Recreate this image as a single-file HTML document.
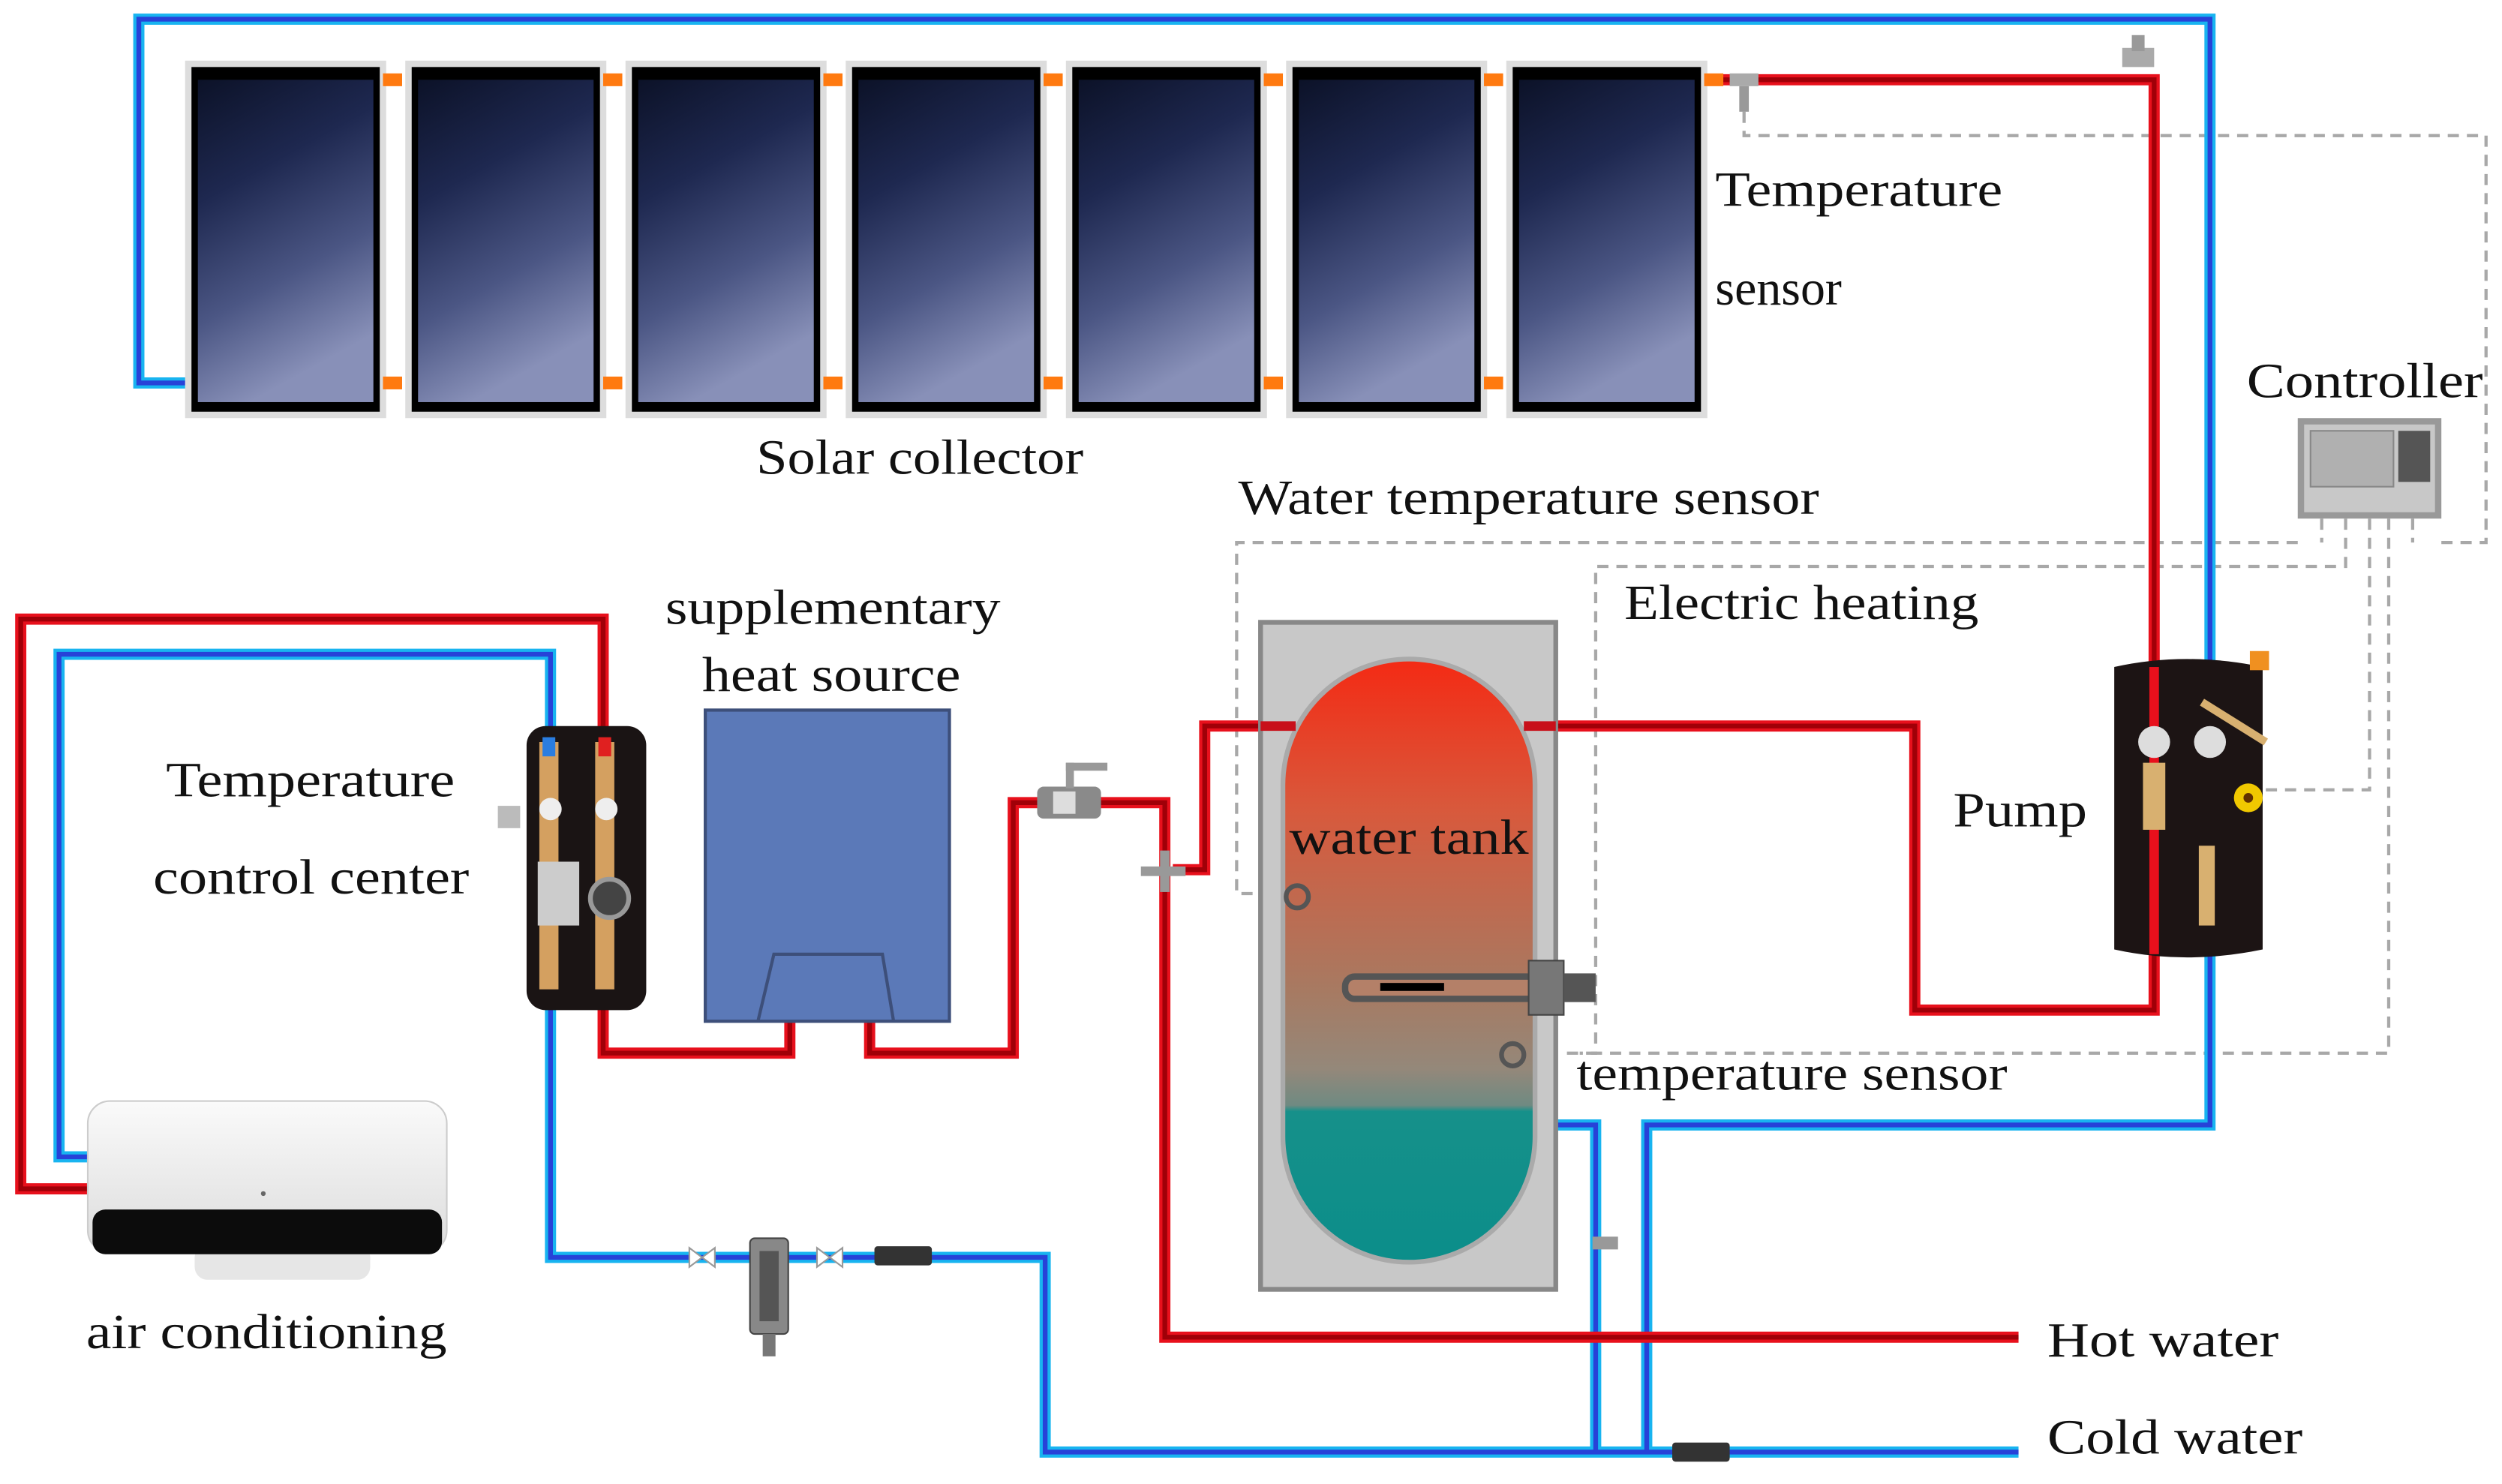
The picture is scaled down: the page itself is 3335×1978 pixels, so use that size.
<!DOCTYPE html>
<html><head><meta charset="utf-8"><style>
html,body{margin:0;padding:0;background:#fff;}
svg{display:block;}
text{font-family:"Liberation Serif",serif;fill:#111;}
</style></head><body>
<svg width="3335" height="1978" viewBox="0 0 1568 930" preserveAspectRatio="none" xmlns="http://www.w3.org/2000/svg">
<defs>
<linearGradient id="pn" x1="0" y1="0" x2="0.3" y2="1">
<stop offset="0" stop-color="#0c1228"/><stop offset="0.35" stop-color="#1e2850"/><stop offset="0.7" stop-color="#4b5684"/><stop offset="1" stop-color="#8890b8"/>
</linearGradient>
<linearGradient id="tk" x1="0" y1="0" x2="0" y2="1">
<stop offset="0" stop-color="#f42a14"/><stop offset="0.25" stop-color="#d8593c"/><stop offset="0.55" stop-color="#a77a62"/><stop offset="0.68" stop-color="#94887a"/><stop offset="0.74" stop-color="#6f8a82"/><stop offset="0.75" stop-color="#16908a"/><stop offset="1" stop-color="#0b8e8a"/>
</linearGradient>
<linearGradient id="ac" x1="0" y1="0" x2="0" y2="1"><stop offset="0" stop-color="#fafafa"/><stop offset="1" stop-color="#dcdcdc"/></linearGradient>
</defs>

<g fill="none" stroke="#a8a8a8" stroke-width="2" stroke-dasharray="7,5">
<path d="M1093,70 V85 H1558 V340 H1530"/>
<path d="M1440,340 H775 V560 H805"/>
<path d="M1470,325 V355 H1000 V660 H980"/>
<path d="M1485,325 V495 H1415"/>
<path d="M1497,325 V660 H990"/>
<path d="M1455,325 V340"/>
<path d="M1512,325 V340"/>
</g>

<g fill="none" stroke-linejoin="miter">
<g stroke="#18b4f0" stroke-width="7">
<path d="M120,240 H87 V12 H1385 V705 H1032 V910"/>
<path d="M975,705 H1000 V910"/>
<path d="M55,725 H37 V410 H345 V460"/>
<path d="M345,630 V788 H655 V910 H1265"/>
</g>
<g stroke="#2742d8" stroke-width="3">
<path d="M120,240 H87 V12 H1385 V705 H1032 V910"/>
<path d="M975,705 H1000 V910"/>
<path d="M55,725 H37 V410 H345 V460"/>
<path d="M345,630 V788 H655 V910 H1265"/>
</g>
<g stroke="#e8101c" stroke-width="7">
<path d="M1070,50 H1350 V633 H1200 V455 H955"/>
<path d="M55,745 H13 V388 H378 V460"/>
<path d="M378,625 V660 H495 V640"/>
<path d="M545,640 V660 H635 V503 H730 V838 H1265"/>
<path d="M808,455 H755 V545 H735"/>
</g>
<g stroke="#a00008" stroke-width="3">
<path d="M1070,50 H1350 V633 H1200 V455 H955"/>
<path d="M55,745 H13 V388 H378 V460"/>
<path d="M378,625 V660 H495 V640"/>
<path d="M545,640 V660 H635 V503 H730 V838 H1265"/>
<path d="M808,455 H755 V545 H735"/>
</g>
</g>

<g>
<rect x="116" y="38" width="126" height="224" fill="#ddd"/><rect x="120" y="42" width="118" height="216" fill="#000"/><rect x="124" y="50" width="110" height="202" fill="url(#pn)"/>
<rect x="254" y="38" width="126" height="224" fill="#ddd"/><rect x="258" y="42" width="118" height="216" fill="#000"/><rect x="262" y="50" width="110" height="202" fill="url(#pn)"/>
<rect x="392" y="38" width="126" height="224" fill="#ddd"/><rect x="396" y="42" width="118" height="216" fill="#000"/><rect x="400" y="50" width="110" height="202" fill="url(#pn)"/>
<rect x="530" y="38" width="126" height="224" fill="#ddd"/><rect x="534" y="42" width="118" height="216" fill="#000"/><rect x="538" y="50" width="110" height="202" fill="url(#pn)"/>
<rect x="668" y="38" width="126" height="224" fill="#ddd"/><rect x="672" y="42" width="118" height="216" fill="#000"/><rect x="676" y="50" width="110" height="202" fill="url(#pn)"/>
<rect x="806" y="38" width="126" height="224" fill="#ddd"/><rect x="810" y="42" width="118" height="216" fill="#000"/><rect x="814" y="50" width="110" height="202" fill="url(#pn)"/>
<rect x="944" y="38" width="126" height="224" fill="#ddd"/><rect x="948" y="42" width="118" height="216" fill="#000"/><rect x="952" y="50" width="110" height="202" fill="url(#pn)"/>
</g>
<g fill="#ff7a10">
<rect x="240" y="46" width="12" height="8"/><rect x="240" y="236" width="12" height="8"/>
<rect x="378" y="46" width="12" height="8"/><rect x="378" y="236" width="12" height="8"/>
<rect x="516" y="46" width="12" height="8"/><rect x="516" y="236" width="12" height="8"/>
<rect x="654" y="46" width="12" height="8"/><rect x="654" y="236" width="12" height="8"/>
<rect x="792" y="46" width="12" height="8"/><rect x="792" y="236" width="12" height="8"/>
<rect x="930" y="46" width="12" height="8"/><rect x="930" y="236" width="12" height="8"/>
<rect x="1068" y="46" width="12" height="8"/>
</g>
<rect x="1084" y="46" width="18" height="8" fill="#aaa"/><rect x="1090" y="54" width="6" height="16" fill="#999"/>
<rect x="1330" y="30" width="20" height="12" fill="#aaa"/><rect x="1336" y="22" width="8" height="10" fill="#999"/>

<rect x="1440" y="262" width="90" height="63" fill="#999"/>
<rect x="1444" y="266" width="82" height="55" fill="#c8c8c8"/>
<rect x="1448" y="270" width="52" height="35" fill="#b0b0b0" stroke="#888"/>
<rect x="1503" y="270" width="20" height="32" fill="#555"/>

<path d="M1325,418 Q1370,408 1418,418 V595 Q1370,605 1325,595 Z" fill="#1c1414"/>
<rect x="1347" y="418" width="6" height="180" fill="#e8101c"/>
<circle cx="1350" cy="465" r="10" fill="#ddd"/><circle cx="1385" cy="465" r="10" fill="#ddd"/>
<rect x="1343" y="478" width="14" height="42" fill="#d8b070"/>
<rect x="1378" y="530" width="10" height="50" fill="#d8b070"/>
<path d="M1380,440 L1420,465" stroke="#d8b070" stroke-width="5"/>
<circle cx="1409" cy="500" r="9" fill="#f0c800"/><circle cx="1409" cy="500" r="3" fill="#603000"/>
<rect x="1410" y="408" width="12" height="12" fill="#f09020"/>

<rect x="790" y="390" width="185" height="418" fill="#c8c8c8" stroke="#888" stroke-width="3"/>
<rect x="804" y="413" width="158" height="378" rx="79" fill="url(#tk)" stroke="#aaa" stroke-width="3"/>
<path d="M790,455 H812 M955,455 H975" stroke="#c8101a" stroke-width="6"/>
<circle cx="813" cy="562" r="7" fill="none" stroke="#555" stroke-width="3"/>
<circle cx="948" cy="661" r="7" fill="none" stroke="#555" stroke-width="3"/>
<rect x="843" y="612" width="120" height="14" rx="6" fill="#b48068" stroke="#555" stroke-width="4"/>
<rect x="865" y="616" width="40" height="5" fill="#000"/>
<rect x="958" y="602" width="22" height="34" fill="#777" stroke="#444"/>
<rect x="980" y="610" width="20" height="18" fill="#555"/>
<rect x="998" y="775" width="16" height="8" fill="#999"/>

<rect x="650" y="493" width="40" height="20" rx="4" fill="#8a8a8a"/><rect x="660" y="496" width="14" height="14" fill="#ddd"/>
<rect x="668" y="478" width="26" height="5" fill="#999"/><rect x="668" y="478" width="5" height="16" fill="#999"/>
<rect x="715" y="543" width="28" height="6" fill="#999"/><rect x="727" y="533" width="6" height="26" fill="#999"/>

<rect x="442" y="445" width="153" height="195" fill="#5b79b8" stroke="#3d4f7a" stroke-width="2"/>
<path d="M475,640 L485,598 H553 L560,640" fill="none" stroke="#3d4f7a" stroke-width="2"/>

<rect x="330" y="455" width="75" height="178" rx="12" fill="#1a1414"/>
<rect x="338" y="465" width="12" height="155" fill="#d4a060"/>
<rect x="373" y="465" width="12" height="155" fill="#d4a060"/>
<rect x="340" y="462" width="8" height="12" fill="#2a7de0"/><rect x="375" y="462" width="8" height="12" fill="#e02020"/>
<circle cx="345" cy="507" r="7" fill="#eee"/><circle cx="380" cy="507" r="7" fill="#eee"/>
<rect x="337" y="540" width="26" height="40" fill="#ccc"/>
<circle cx="382" cy="563" r="12" fill="#444" stroke="#999" stroke-width="3"/>
<rect x="312" y="505" width="14" height="14" fill="#bbb"/>

<path d="M432,782 L448,794 V782 L432,794 Z" fill="#fff" stroke="#999"/>
<rect x="470" y="776" width="24" height="60" rx="3" fill="#888" stroke="#444"/>
<rect x="476" y="784" width="12" height="44" fill="#555"/>
<rect x="478" y="836" width="8" height="14" fill="#777"/>
<path d="M512,782 L528,794 V782 L512,794 Z" fill="#fff" stroke="#999"/>
<rect x="548" y="781" width="36" height="12" rx="2" fill="#333"/>
<rect x="1048" y="904" width="36" height="12" rx="2" fill="#333"/>

<rect x="122" y="780" width="110" height="22" rx="8" fill="#e6e6e6"/>
<rect x="55" y="690" width="225" height="95" rx="14" fill="url(#ac)" stroke="#ccc"/>
<rect x="58" y="758" width="219" height="28" rx="8" fill="#0c0c0c"/>
<circle cx="165" cy="748" r="1.5" fill="#666"/>

<g font-size="31">
<text x="1075" y="129" textLength="180" lengthAdjust="spacingAndGlyphs">Temperature</text>
<text x="1075" y="191">sensor</text>
<text x="474" y="297" textLength="205" lengthAdjust="spacingAndGlyphs">Solar collector</text>
<text x="1408" y="249" textLength="148" lengthAdjust="spacingAndGlyphs">Controller</text>
<text x="776" y="322" textLength="364" lengthAdjust="spacingAndGlyphs">Water temperature sensor</text>
<text x="1018" y="388" textLength="222" lengthAdjust="spacingAndGlyphs">Electric heating</text>
<text x="417" y="391" textLength="210" lengthAdjust="spacingAndGlyphs">supplementary</text>
<text x="440" y="433" textLength="162" lengthAdjust="spacingAndGlyphs">heat source</text>
<text x="104" y="499" textLength="181" lengthAdjust="spacingAndGlyphs">Temperature</text>
<text x="96" y="560" textLength="198" lengthAdjust="spacingAndGlyphs">control center</text>
<text x="808" y="535" textLength="150" lengthAdjust="spacingAndGlyphs">water tank</text>
<text x="1224" y="518" textLength="84" lengthAdjust="spacingAndGlyphs">Pump</text>
<text x="988" y="683" textLength="270" lengthAdjust="spacingAndGlyphs">temperature sensor</text>
<text x="54" y="845" textLength="226" lengthAdjust="spacingAndGlyphs">air conditioning</text>
<text x="1283" y="850" textLength="145" lengthAdjust="spacingAndGlyphs">Hot water</text>
<text x="1283" y="911" textLength="160" lengthAdjust="spacingAndGlyphs">Cold water</text>
</g>
</svg>
</body></html>
